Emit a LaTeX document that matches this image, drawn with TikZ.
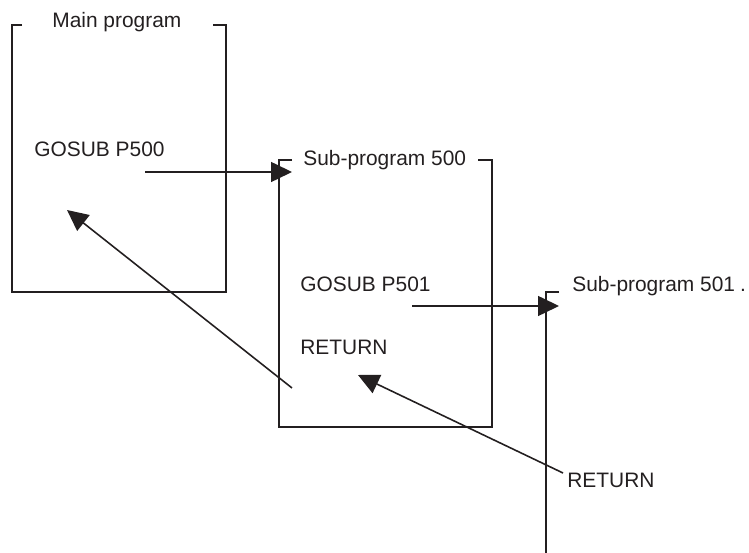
\documentclass[tikz,border=0pt]{standalone}
\usepackage{fontspec}
\setmainfont{Liberation Sans}
\usetikzlibrary{arrows.meta}
\definecolor{ink}{HTML}{231F20}
\tikzset{
    frame/.style = {draw = ink, line width = 0.9pt},
    call/.style = {draw = ink, line width = 0.9pt, -{Triangle[length = 0.42cm, width = 0.4cm]}},
    label/.style = {anchor = base west, inner sep = 0pt, text = ink, font = \fontsize{11.9}{14}\selectfont}
}
\begin{document}
\begin{tikzpicture}
        \useasboundingbox (0, 0) rectangle (14.98, 11.06);
        % open-topped program boxes
        \draw[frame] (0.44, 10.56) -- (0.24, 10.56) -- (0.24, 5.22) -- (4.52, 5.22) -- (4.52, 10.56) -- (4.26, 10.56);
        \draw[frame] (5.84, 7.86) -- (5.58, 7.86) -- (5.58, 2.52) -- (9.84, 2.52) -- (9.84, 7.86) -- (9.56, 7.86);
        \draw[frame] (11.18, 5.22) -- (10.92, 5.22) -- (10.92, 0);
        % texts
        \node[label] (main) at (1.04, 10.5) {Main program};
        \node[label] (gosub500) at (0.68, 7.92) {GOSUB P500};
        \node[label] (sub500) at (6.06, 7.74) {Sub-program 500};
        \node[label] (gosub501) at (6.0, 5.22) {GOSUB P501};
        \node[label] (return500) at (6.0, 3.96) {RETURN};
        \node[label] (sub501) at (11.44, 5.22) {Sub-program 501\hspace{0.1cm}.};
        \node[label] (return501) at (11.34, 1.3) {RETURN};
        % calls and returns
        \coordinate (out500) at (2.9, 7.62);
        \coordinate (in500) at (5.84, 7.62);
        \coordinate (back500) at (5.84, 3.3);
        \coordinate (inmain) at (1.34, 6.86);
        \coordinate (out501) at (8.24, 4.94);
        \coordinate (in501) at (11.18, 4.94);
        \coordinate (back501) at (11.26, 1.6);
        \coordinate (ret500) at (7.16, 3.56);
        \draw[call] (out500) -- (in500);
        \draw[call] (back500) -- (inmain);
        \draw[call] (out501) -- (in501);
        \draw[call] (back501) -- (ret500);
    \end{tikzpicture}
\end{document}
